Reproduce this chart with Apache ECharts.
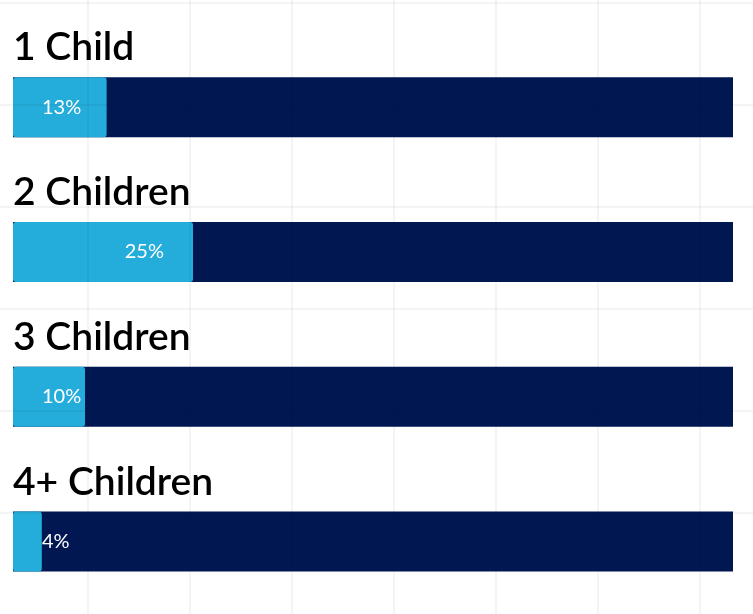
<!DOCTYPE html>
<html>
<head>
<meta charset="utf-8">
<script src="https://cdn.jsdelivr.net/npm/echarts@6/dist/echarts.min.js"></script>
<style>
  html, body { margin: 0; padding: 0; background: #fff; }
  #wrap { position: relative; width: 753px; height: 614px; }
  #chart { width: 753px; height: 614px; }
  /* faint squared paper behind/over the chart */
  #paper {
    position: absolute; left: 0; top: 0; width: 753px; height: 614px;
    pointer-events: none;
    background-image:
      linear-gradient(to right, rgba(0,0,0,0.045) 2px, transparent 2px),
      linear-gradient(to bottom, rgba(0,0,0,0.045) 2px, transparent 2px);
    background-size: 102px 102px;
    background-position: 87px 2px;
  }
</style>
</head>
<body>
<div id="wrap">
  <div id="chart"></div>
  <div id="paper"></div>
</div>
<script>
const categories = ['1 Child', '2 Children', '3 Children', '4+ Children']
const shares = [13, 25, 10, 4]
const totals = [100, 100, 100, 100]

const renderShareBars = () => {
  const chart = echarts.init(document.getElementById('chart'))
  const labelPad = 29
  const gridWidth = 720

  // value labels sit inside the right end, unless the bar is too short
  const shareData = shares.map((v) => {
    const barPx = v / 100 * gridWidth
    if (barPx - labelPad - 40 < labelPad) {
      return { value: v, label: { position: [labelPad, '50%'], align: 'left', verticalAlign: 'middle' } }
    }
    return { value: v }
  })

  const option = {
    animation: false,
    grid: { left: 13, right: 20, top: 34.8, height: 583.2 },
    xAxis: {
      type: 'value', min: 0, max: 100, show: false
    },
    yAxis: {
      type: 'category', data: categories, inverse: true, show: false
    },
    series: [
      {
        name: 'total',
        type: 'bar',
        barWidth: 60,
        barGap: '-100%',
        data: totals,
        itemStyle: { color: '#001752' },
        label: {
          show: true,
          position: [0, -10],
          align: 'left',
          verticalAlign: 'bottom',
          formatter: (p) => categories[p.dataIndex],
          color: '#000',
          fontFamily: 'Lato',
          fontSize: 39,
          fontWeight: 600
        },
        silent: true
      },
      {
        name: 'share',
        type: 'bar',
        barWidth: 60,
        data: shareData,
        itemStyle: { color: '#24addb', borderRadius: 3 },
        label: {
          show: true,
          position: 'insideRight',
          distance: labelPad,
          formatter: '{c}%',
          color: '#fff',
          fontFamily: 'Lato',
          fontSize: 20
        }
      }
    ]
  }
  chart.setOption(option)
}

document.addEventListener('DOMContentLoaded', function () {
  renderShareBars()
})
</script>
</body>
</html>
